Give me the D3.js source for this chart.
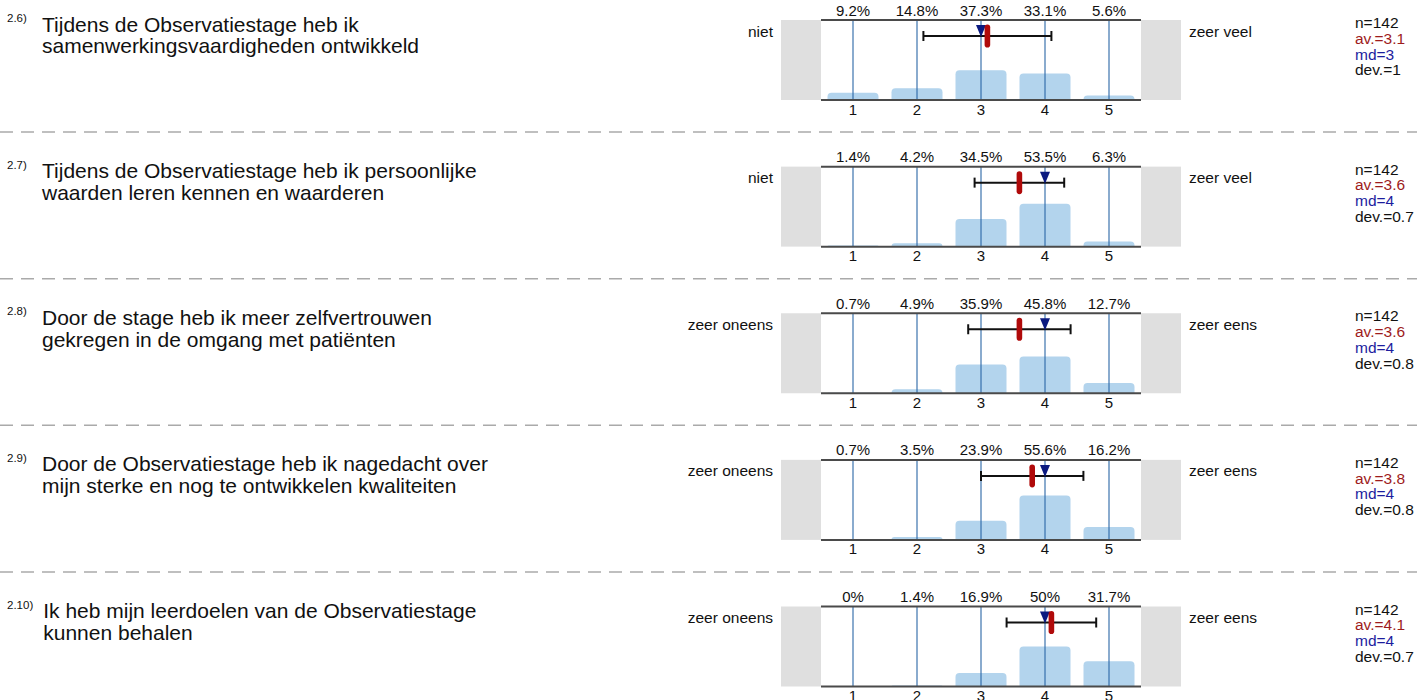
<!doctype html>
<html>
<head>
<meta charset="utf-8">
<title>Observatiestage</title>
<script src="https://cdn.jsdelivr.net/npm/d3@7"></script>
<style>
  body { margin: 0; background: #fff; }
  svg text { font-family: "Liberation Sans", Arial, sans-serif; }
</style>
</head>
<body>
<svg id="chart" width="1417" height="700"></svg>
<script>
// question data
const numbers = ["2.6)", "2.7)", "2.8)", "2.9)", "2.10)"];
const titles = [
  ["Tijdens de Observatiestage heb ik", "samenwerkingsvaardigheden ontwikkeld"],
  ["Tijdens de Observatiestage heb ik persoonlijke", "waarden leren kennen en waarderen"],
  ["Door de stage heb ik meer zelfvertrouwen", "gekregen in de omgang met patiënten"],
  ["Door de Observatiestage heb ik nagedacht over", "mijn sterke en nog te ontwikkelen kwaliteiten"],
  ["Ik heb mijn leerdoelen van de Observatiestage", "kunnen behalen"]
];
const leftLabels = ["niet", "niet", "zeer oneens", "zeer oneens", "zeer oneens"];
const rightLabels = ["zeer veel", "zeer veel", "zeer eens", "zeer eens", "zeer eens"];
const categories = [1, 2, 3, 4, 5];
const percents = [
  [9.2, 14.8, 37.3, 33.1, 5.6],
  [1.4, 4.2, 34.5, 53.5, 6.3],
  [0.7, 4.9, 35.9, 45.8, 12.7],
  [0.7, 3.5, 23.9, 55.6, 16.2],
  [0, 1.4, 16.9, 50, 31.7]
];
const nValues = [142, 142, 142, 142, 142];
const avValues = [3.1, 3.6, 3.6, 3.8, 4.1];
const mdValues = [3, 4, 4, 4, 4];
const devValues = [1, 0.7, 0.8, 0.8, 0.7];

const svg = d3.select("#chart");

const blockY = d3.scaleLinear().domain([0, 4]).range([20, 606.5]);
const x = d3.scaleLinear().domain([1, 5]).range([853, 1109]);
const plotH = 80;
const y = d3.scaleLinear().domain([0, 100]).range([plotH, 0]);
const barW = 51;

numbers.forEach((num, i) => {
  const g = svg.append("g").attr("transform", `translate(0,${blockY(i)})`);

  // question number + title
  const numText = g.append("text").attr("x", 7).attr("y", 2)
    .attr("font-size", 11.5).attr("fill", "#111").text(num);
  const tx = Math.max(42, 7 + numText.node().getComputedTextLength() + 10);
  const title = g.append("text").attr("font-size", 21).attr("fill", "#111");
  titles[i].forEach((line, k) => {
    title.append("tspan").attr("x", tx).attr("y", 11.5 + k * 21.8).text(line);
  });

  // gray side boxes
  g.append("rect").attr("x", 781).attr("y", 0).attr("width", 40).attr("height", plotH).attr("fill", "#dfdfdf");
  g.append("rect").attr("x", 1141).attr("y", 0).attr("width", 40).attr("height", plotH).attr("fill", "#dfdfdf");

  // bars
  g.selectAll("path.bar").data(percents[i]).join("path")
    .attr("class", "bar")
    .attr("fill", "#b3d4ed")
    .attr("d", (d, j) => {
      const x0 = x(categories[j]) - barW / 2, x1 = x0 + barW;
      const yt = y(d), yb = plotH;
      if (yb - yt <= 0) return "";
      const r = Math.min(4, (yb - yt));
      return `M${x0},${yb}V${yt + r}Q${x0},${yt} ${x0 + r},${yt}H${x1 - r}Q${x1},${yt} ${x1},${yt + r}V${yb}Z`;
    });

  // vertical grid lines
  g.selectAll("line.grid").data(categories).join("line")
    .attr("x1", d => x(d)).attr("x2", d => x(d))
    .attr("y1", 0).attr("y2", plotH)
    .attr("stroke", "#2a66a6").attr("stroke-width", 1.1);

  // top & bottom rules
  [0, plotH].forEach(yy => {
    g.append("line").attr("x1", 821).attr("x2", 1141).attr("y1", yy).attr("y2", yy)
      .attr("stroke", "#4a4a4a").attr("stroke-width", 2);
  });

  // percent labels
  g.selectAll("text.pct").data(percents[i]).join("text")
    .attr("x", (d, j) => x(categories[j])).attr("y", -4.5)
    .attr("text-anchor", "middle").attr("font-size", 15).attr("fill", "#111")
    .text(d => d + "%");

  // category tick labels
  g.selectAll("text.tick").data(categories).join("text")
    .attr("x", d => x(d)).attr("y", plotH + 14.5)
    .attr("text-anchor", "middle").attr("font-size", 15).attr("fill", "#111")
    .text(d => d);

  // std dev error bar
  const ey = 16;
  const lo = x(avValues[i] - devValues[i]), hi = x(avValues[i] + devValues[i]);
  g.append("line").attr("x1", lo).attr("x2", hi).attr("y1", ey).attr("y2", ey)
    .attr("stroke", "#111").attr("stroke-width", 2);
  [lo, hi].forEach(xx => {
    g.append("line").attr("x1", xx).attr("x2", xx).attr("y1", ey - 5).attr("y2", ey + 5)
      .attr("stroke", "#111").attr("stroke-width", 2);
  });

  // median triangle
  const mx = x(mdValues[i]);
  g.append("path").attr("d", `M${mx - 5},5L${mx + 5},5L${mx},17Z`).attr("fill", "#0b1a80");

  // mean marker
  g.append("rect").attr("x", x(avValues[i]) - 2.8).attr("y", 4.5)
    .attr("width", 5.6).attr("height", 23).attr("rx", 2.8)
    .attr("fill", "#b00a0a");

  // scale end labels
  g.append("text").attr("x", 773).attr("y", 16.5).attr("text-anchor", "end")
    .attr("font-size", 15.5).attr("fill", "#111").text(leftLabels[i]);
  g.append("text").attr("x", 1189).attr("y", 16.5)
    .attr("font-size", 15.5).attr("fill", "#111").text(rightLabels[i]);

  // stats
  const stats = [
    ["n=" + nValues[i], "#111"],
    ["av.=" + avValues[i], "#9e1b1b"],
    ["md=" + mdValues[i], "#1d1d9e"],
    ["dev.=" + devValues[i], "#111"]
  ];
  g.selectAll("text.stat").data(stats).join("text")
    .attr("x", 1355).attr("y", (d, k) => 8 + k * 15.8)
    .attr("font-size", 15.5).attr("fill", d => d[1]).text(d => d[0]);

  // separator
  if (i < numbers.length - 1) {
    g.append("line").attr("x1", 0).attr("x2", 1417).attr("y1", 112).attr("y2", 112)
      .attr("stroke", "#aaa").attr("stroke-width", 1.5).attr("stroke-dasharray", "13,8");
  }
});
</script>
</body>
</html>
